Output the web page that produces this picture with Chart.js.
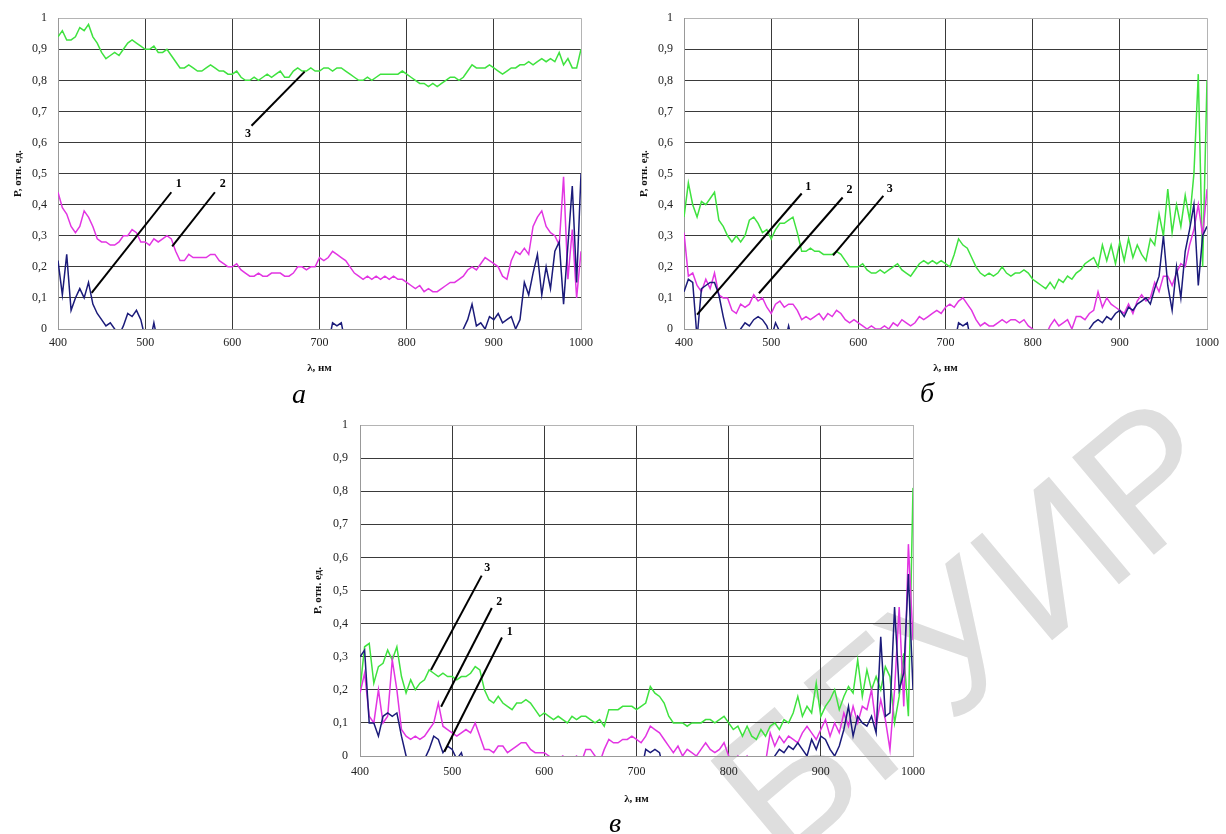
<!DOCTYPE html>
<html>
<head>
<meta charset="utf-8">
<script src="https://cdn.jsdelivr.net/npm/chart.js@4.4.1/dist/chart.umd.min.js"></script>
<style>
  html, body { margin: 0; padding: 0; background: #fff; overflow: hidden; width: 1226px; height: 834px; }
  canvas { position: absolute; z-index: 1; }
  .panel { position: absolute; z-index: 2; font: italic 28px 'Liberation Serif', serif; line-height: 28px; transform: translateX(-50%); color: #000; }
  #wm { position: absolute; z-index: 0; left: 968px; top: 628px; transform: translate(-50%, -50%) rotate(-40deg);
        font: 185px 'Liberation Sans', sans-serif; color: #dedede; white-space: nowrap; line-height: 1; }
</style>
</head>
<body>
<div id="wm">БГУИР</div>
<canvas id="chartA" width="600" height="377" style="left:0;top:0"></canvas>
<canvas id="chartB" width="600" height="377" style="left:626px;top:0"></canvas>
<canvas id="chartC" width="632" height="403" style="left:302px;top:405px"></canvas>
<div class="panel" style="left:299px;top:380px">а</div>
<div class="panel" style="left:927px;top:379px">б</div>
<div class="panel" style="left:615px;top:809px">в</div>

<script>
// wavelength grid, nm (5 nm step)
const wavelengths = Array.from({ length: 121 }, (_, i) => 400 + 5 * i);
const yTickLabels = ['0', '0,1', '0,2', '0,3', '0,4', '0,5', '0,6', '0,7', '0,8', '0,9', '1'];

// panel а
const a1 = [0.22,0.11,0.24,0.06,0.10,0.13,0.10,0.15,0.08,0.05,
  0.03,0.01,0.02,0.00,-0.02,0.01,0.05,0.04,0.06,0.03,
  -0.03,-0.05,0.02,-0.05,-0.05,-0.05,-0.05,-0.05,-0.05,-0.05,
  -0.05,-0.05,-0.05,-0.05,-0.05,-0.05,-0.05,-0.05,-0.05,-0.05,
  -0.05,-0.05,-0.05,-0.05,-0.05,-0.05,-0.05,-0.05,-0.05,-0.05,
  -0.05,-0.05,-0.05,-0.05,-0.05,-0.05,-0.05,-0.05,-0.05,-0.05,
  -0.05,-0.05,-0.05,0.02,0.01,0.02,-0.05,-0.05,-0.05,-0.05,
  -0.05,-0.05,-0.05,-0.05,-0.05,-0.05,-0.05,-0.05,-0.05,-0.05,
  -0.05,-0.05,-0.05,-0.05,-0.05,-0.05,-0.05,-0.05,-0.05,-0.05,
  -0.05,-0.05,-0.05,0.00,0.03,0.08,0.01,0.02,0.00,0.04,
  0.03,0.05,0.02,0.03,0.04,0.00,0.03,0.15,0.11,0.18,
  0.24,0.11,0.20,0.13,0.25,0.28,0.08,0.27,0.46,0.15,
  0.50];
const a2 = [0.44,0.39,0.37,0.33,0.31,0.33,0.38,0.36,0.33,0.29,
  0.28,0.28,0.27,0.27,0.28,0.30,0.30,0.32,0.31,0.28,
  0.28,0.27,0.29,0.28,0.29,0.30,0.29,0.25,0.22,0.22,
  0.24,0.23,0.23,0.23,0.23,0.24,0.24,0.22,0.21,0.20,
  0.20,0.21,0.19,0.18,0.17,0.17,0.18,0.17,0.17,0.18,
  0.18,0.18,0.17,0.17,0.18,0.20,0.20,0.19,0.20,0.20,
  0.23,0.22,0.23,0.25,0.24,0.23,0.22,0.20,0.18,0.17,
  0.16,0.17,0.16,0.17,0.16,0.17,0.16,0.17,0.16,0.16,
  0.15,0.14,0.13,0.14,0.12,0.13,0.12,0.12,0.13,0.14,
  0.15,0.15,0.16,0.17,0.19,0.20,0.19,0.21,0.23,0.22,
  0.21,0.20,0.17,0.16,0.22,0.25,0.24,0.26,0.24,0.33,
  0.36,0.38,0.33,0.31,0.30,0.27,0.49,0.16,0.32,0.10,
  0.25];
const a3 = [0.94,0.96,0.93,0.93,0.94,0.97,0.96,0.98,0.94,0.92,
  0.89,0.87,0.88,0.89,0.88,0.90,0.92,0.93,0.92,0.91,
  0.90,0.90,0.91,0.89,0.89,0.90,0.88,0.86,0.84,0.84,
  0.85,0.84,0.83,0.83,0.84,0.85,0.84,0.83,0.83,0.82,
  0.82,0.83,0.81,0.80,0.80,0.81,0.80,0.81,0.82,0.81,
  0.82,0.83,0.81,0.81,0.83,0.84,0.83,0.83,0.84,0.83,
  0.83,0.84,0.84,0.83,0.84,0.84,0.83,0.82,0.81,0.80,
  0.80,0.81,0.80,0.81,0.82,0.82,0.82,0.82,0.82,0.83,
  0.82,0.81,0.80,0.79,0.79,0.78,0.79,0.78,0.79,0.80,
  0.81,0.81,0.80,0.81,0.83,0.85,0.84,0.84,0.84,0.85,
  0.84,0.83,0.82,0.83,0.84,0.84,0.85,0.85,0.86,0.85,
  0.86,0.87,0.86,0.87,0.86,0.89,0.85,0.87,0.84,0.84,
  0.90];

// panel б
const b1 = [0.12,0.16,0.15,-0.03,0.13,0.14,0.15,0.15,0.11,0.04,
  -0.02,-0.05,-0.03,0.00,0.02,0.01,0.03,0.04,0.03,0.01,
  -0.03,0.02,-0.01,-0.05,0.01,-0.05,-0.05,-0.05,-0.05,-0.05,
  -0.05,-0.05,-0.05,-0.05,-0.05,-0.05,-0.05,-0.05,-0.05,-0.05,
  -0.05,-0.05,-0.05,-0.05,-0.05,-0.05,-0.05,-0.05,-0.05,-0.05,
  -0.05,-0.05,-0.05,-0.05,-0.05,-0.05,-0.05,-0.05,-0.05,-0.05,
  -0.05,-0.05,-0.05,0.02,0.01,0.02,-0.05,-0.05,-0.05,-0.05,
  -0.05,-0.05,-0.05,-0.05,-0.05,-0.05,-0.05,-0.05,-0.05,-0.05,
  -0.05,-0.05,-0.05,-0.05,-0.05,-0.05,-0.05,-0.05,-0.05,-0.05,
  -0.05,-0.05,-0.05,0.00,0.02,0.03,0.02,0.04,0.03,0.05,
  0.06,0.04,0.07,0.06,0.08,0.09,0.10,0.08,0.13,0.17,
  0.30,0.14,0.06,0.20,0.10,0.25,0.32,0.40,0.14,0.30,
  0.33];
const b2 = [0.31,0.17,0.18,0.14,0.12,0.16,0.13,0.18,0.11,0.10,
  0.10,0.06,0.05,0.08,0.07,0.08,0.11,0.09,0.10,0.07,
  0.05,0.08,0.09,0.07,0.08,0.08,0.06,0.03,0.04,0.03,
  0.04,0.05,0.03,0.05,0.04,0.06,0.05,0.03,0.02,0.03,
  0.02,0.01,0.00,0.01,0.00,0.00,0.01,0.00,0.02,0.01,
  0.03,0.02,0.01,0.02,0.04,0.03,0.04,0.05,0.06,0.05,
  0.07,0.08,0.07,0.09,0.10,0.08,0.06,0.03,0.01,0.02,
  0.01,0.01,0.02,0.03,0.02,0.03,0.03,0.02,0.03,0.01,
  0.00,-0.02,-0.02,-0.02,0.01,0.03,0.01,0.02,0.03,0.00,
  0.04,0.04,0.03,0.05,0.06,0.12,0.07,0.10,0.08,0.07,
  0.06,0.05,0.08,0.05,0.09,0.11,0.09,0.10,0.15,0.12,
  0.17,0.17,0.14,0.18,0.21,0.20,0.27,0.32,0.40,0.30,
  0.45];
const b3 = [0.36,0.47,0.40,0.36,0.41,0.40,0.42,0.44,0.35,0.33,
  0.30,0.28,0.30,0.28,0.30,0.35,0.36,0.34,0.31,0.32,
  0.29,0.32,0.34,0.34,0.35,0.36,0.31,0.25,0.25,0.26,
  0.25,0.25,0.24,0.24,0.24,0.25,0.24,0.22,0.20,0.20,
  0.20,0.21,0.19,0.18,0.18,0.19,0.18,0.19,0.20,0.21,
  0.19,0.18,0.17,0.19,0.21,0.22,0.21,0.22,0.21,0.22,
  0.21,0.20,0.24,0.29,0.27,0.26,0.23,0.20,0.18,0.17,
  0.18,0.17,0.18,0.20,0.18,0.17,0.18,0.18,0.19,0.18,
  0.16,0.15,0.14,0.13,0.15,0.13,0.16,0.15,0.17,0.16,
  0.18,0.19,0.21,0.22,0.23,0.20,0.27,0.22,0.27,0.21,
  0.28,0.22,0.29,0.23,0.27,0.24,0.22,0.29,0.27,0.37,
  0.30,0.45,0.31,0.40,0.33,0.43,0.35,0.50,0.82,0.20,
  0.80];

// panel в
const c1 = [0.30,0.32,0.10,0.10,0.06,0.12,0.13,0.12,0.13,0.06,
  0.00,-0.02,-0.04,-0.04,-0.01,0.02,0.06,0.05,0.01,0.03,
  0.02,-0.01,0.01,-0.04,-0.05,-0.05,-0.05,-0.05,-0.05,-0.05,
  -0.05,-0.05,-0.05,-0.05,-0.05,-0.05,-0.05,-0.05,-0.05,-0.05,
  -0.05,-0.05,-0.05,-0.05,-0.05,-0.05,-0.05,-0.05,-0.05,-0.05,
  -0.05,-0.05,-0.05,-0.05,-0.05,-0.05,-0.05,-0.05,-0.05,-0.05,
  -0.05,-0.05,0.02,0.01,0.02,0.01,-0.05,-0.05,-0.05,-0.05,
  -0.05,-0.05,-0.05,-0.05,-0.05,-0.05,-0.05,-0.05,-0.05,-0.05,
  -0.05,-0.05,-0.05,-0.05,-0.05,-0.05,-0.05,-0.05,-0.05,-0.05,
  0.00,0.02,0.01,0.03,0.02,0.04,0.02,0.00,0.05,0.02,
  0.06,0.05,0.02,0.00,0.03,0.08,0.15,0.06,0.12,0.10,
  0.09,0.12,0.07,0.36,0.12,0.13,0.45,0.20,0.25,0.55,
  0.20];
const c2 = [0.19,0.25,0.12,0.10,0.20,0.10,0.12,0.29,0.20,0.08,
  0.06,0.05,0.06,0.05,0.06,0.08,0.10,0.16,0.09,0.08,
  0.07,0.06,0.07,0.08,0.07,0.10,0.06,0.02,0.02,0.01,
  0.03,0.03,0.01,0.02,0.03,0.04,0.04,0.02,0.01,0.01,
  0.01,0.00,-0.01,-0.01,0.00,-0.01,-0.01,0.00,-0.02,0.02,
  0.02,0.00,-0.02,0.02,0.05,0.04,0.04,0.05,0.05,0.06,
  0.05,0.04,0.06,0.09,0.08,0.07,0.05,0.03,0.01,0.03,
  0.00,0.02,0.01,0.00,0.02,0.04,0.02,0.01,0.02,0.04,
  0.00,-0.02,0.00,-0.02,0.00,-0.02,-0.01,-0.02,-0.02,0.07,
  0.03,0.06,0.04,0.06,0.05,0.04,0.07,0.09,0.07,0.05,
  0.08,0.11,0.06,0.10,0.07,0.13,0.09,0.15,0.10,0.15,
  0.14,0.20,0.09,0.17,0.11,0.02,0.20,0.45,0.15,0.64,
  0.35];
const c3 = [0.20,0.33,0.34,0.22,0.27,0.28,0.32,0.29,0.33,0.24,
  0.19,0.23,0.20,0.22,0.23,0.26,0.25,0.24,0.25,0.24,
  0.24,0.23,0.24,0.24,0.25,0.27,0.26,0.20,0.17,0.16,
  0.18,0.16,0.15,0.14,0.16,0.16,0.17,0.16,0.14,0.12,
  0.13,0.12,0.11,0.12,0.11,0.10,0.12,0.11,0.12,0.12,
  0.11,0.10,0.11,0.09,0.14,0.14,0.14,0.15,0.15,0.15,
  0.14,0.15,0.16,0.21,0.19,0.18,0.16,0.12,0.10,0.10,
  0.10,0.09,0.10,0.10,0.10,0.11,0.11,0.10,0.11,0.12,
  0.10,0.08,0.09,0.06,0.09,0.06,0.05,0.08,0.06,0.09,
  0.10,0.08,0.11,0.10,0.13,0.18,0.12,0.15,0.13,0.22,
  0.12,0.15,0.17,0.20,0.14,0.18,0.21,0.19,0.29,0.18,
  0.26,0.20,0.24,0.20,0.27,0.24,0.10,0.18,0.31,0.12,
  0.81];

// leader lines with curve numbers: [nm, value]
const leadersA = [
  { label: '1', from: [438.6, 0.116], to: [530, 0.44], at: [538.5, 0.466] },
  { label: '2', from: [531, 0.266], to: [580, 0.44], at: [589, 0.466] },
  { label: '3', from: [622, 0.654], to: [683, 0.828], at: [618, 0.628] },
];
const leadersB = [
  { label: '1', from: [415, 0.046], to: [535, 0.436], at: [542.6, 0.457] },
  { label: '2', from: [486, 0.115], to: [582, 0.423], at: [590, 0.446] },
  { label: '3', from: [571, 0.237], to: [628.7, 0.428], at: [636, 0.452] },
];
const leadersC = [
  { label: '3', from: [477, 0.26], to: [532, 0.545], at: [538, 0.567] },
  { label: '2', from: [488, 0.149], to: [543, 0.447], at: [551, 0.466] },
  { label: '1', from: [491.5, 0.013], to: [554, 0.358], at: [562.5, 0.375] },
];

const NAVY = '#1b1b7a', MAGENTA = '#e235e2', GREEN = '#3fe23f';
const serif = "'Liberation Serif', 'Times New Roman', serif";

const leaderPlugin = {
  id: 'leaders',
  afterDatasetsDraw(chart, args, opts) {
    const { ctx, scales: { x, y } } = chart;
    ctx.save();
    ctx.strokeStyle = '#000';
    ctx.lineWidth = 2;
    ctx.fillStyle = '#000';
    ctx.font = 'bold 12px ' + serif;
    ctx.textAlign = 'center';
    ctx.textBaseline = 'middle';
    (opts.items || []).forEach(it => {
      ctx.beginPath();
      ctx.moveTo(x.getPixelForValue(it.from[0]), y.getPixelForValue(it.from[1]));
      ctx.lineTo(x.getPixelForValue(it.to[0]), y.getPixelForValue(it.to[1]));
      ctx.stroke();
      ctx.fillText(it.label, x.getPixelForValue(it.at[0]), y.getPixelForValue(it.at[1]));
    });
    ctx.restore();
  }
};

function series(values, color) {
  return {
    data: wavelengths.map((w, i) => ({ x: w, y: values[i] })),
    borderColor: color,
    borderWidth: 1.5,
    pointRadius: 0,
    tension: 0,
    fill: false
  };
}

function edgeColor(lo, hi) {
  return ctx => (ctx.tick && (ctx.tick.value === lo || ctx.tick.value === hi)) ? '#b4b4b4' : '#3a3a3a';
}

function makeChart(id, s1, s2, s3, leaders, cfg) {
  new Chart(document.getElementById(id), {
    type: 'line',
    data: { datasets: [series(s1, NAVY), series(s2, MAGENTA), series(s3, GREEN)] },
    plugins: [leaderPlugin],
    options: {
      responsive: false,
      animation: false,
      devicePixelRatio: 1,
      layout: { padding: { left: 0, right: cfg.padRight, top: cfg.padTop, bottom: 0 } },
      plugins: { legend: { display: false }, tooltip: { enabled: false }, leaders: { items: leaders } },
      scales: {
        x: {
          type: 'linear', min: 400, max: 1000,
          ticks: { stepSize: 100, padding: cfg.xTickPad, color: '#222', font: { family: serif, size: 12 }, maxRotation: 0, callback: v => String(v) },
          grid: { drawTicks: false, color: edgeColor(400, 1000), lineWidth: 1 },
          border: { color: '#999' },
          title: { display: true, text: 'λ, нм', color: '#111', font: { family: serif, size: 11, weight: 'bold' }, padding: { top: 0, bottom: 2 } },
          afterFit(s) { s.height = cfg.xHeight; }
        },
        y: {
          min: 0, max: 1,
          ticks: { stepSize: 0.1, padding: cfg.yTickPad, color: '#222', font: { family: serif, size: 12 }, callback: v => yTickLabels[Math.round(v * 10)] },
          grid: { drawTicks: false, color: edgeColor(0, 1), lineWidth: 1 },
          border: { color: '#999' },
          title: { display: true, text: 'P, отн. ед.', color: '#111', font: { family: serif, size: 11, weight: 'bold' }, padding: { top: cfg.yTitlePad, bottom: 0 } },
          afterFit(s) { s.width = 58; }
        }
      }
    }
  });
}

makeChart('chartA', a1, a2, a3, leadersA, { padTop: 18, padRight: 18, xHeight: 48, xTickPad: 7, yTickPad: 11, yTitlePad: 12 });
makeChart('chartB', b1, b2, b3, leadersB, { padTop: 16, padRight: 13, xHeight: 48, xTickPad: 7, yTickPad: 11, yTitlePad: 12 });
makeChart('chartC', c1, c2, c3, leadersC, { padTop: 20, padRight: 16, xHeight: 52, xTickPad: 9, yTickPad: 12, yTitlePad: 10 });
</script>
</body>
</html>
